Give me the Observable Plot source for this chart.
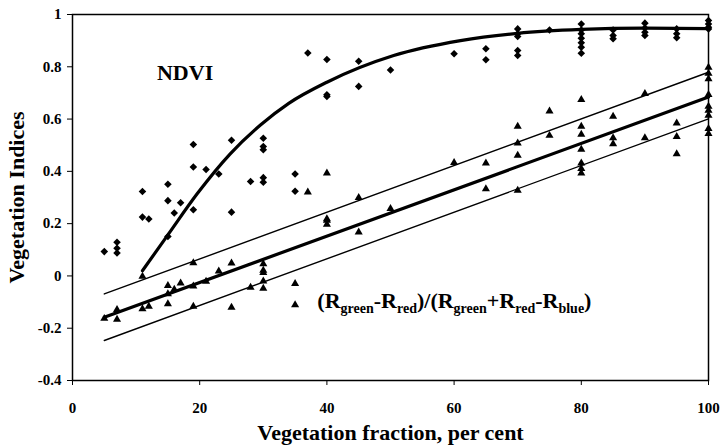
<!DOCTYPE html>
<html><head><meta charset="utf-8">
<script src="https://cdn.jsdelivr.net/npm/d3@7"></script>
<script src="https://cdn.jsdelivr.net/npm/@observablehq/plot@0.6"></script>
<style>
body{margin:0;background:#fff;}
#chart svg{display:block;}
</style></head><body><div id="chart"></div>
<script>
// NDVI observations (diamonds)
const ndviX = [5,7,7,7,11,11,12,15,15,15,16,17,19,19,19,21,23,25,25,28,30,30,30,30,30,35,35,37,40,40,40,45,45,50,60,65,65,
  70,70,70,70,70,75,80,80,80,80,80,80,80,85,85,85,90,90,90,90,95,95,95,100,100,100,100];
const ndviY = [0.093,0.129,0.106,0.088,0.323,0.225,0.218,0.351,0.288,0.151,0.241,0.28,0.503,0.417,0.253,0.407,0.39,0.519,0.244,0.361,
  0.527,0.495,0.483,0.376,0.358,0.39,0.324,0.853,0.828,0.693,0.686,0.821,0.725,0.788,0.85,0.869,0.827,
  0.945,0.926,0.916,0.862,0.843,0.941,0.964,0.941,0.926,0.909,0.892,0.875,0.852,0.941,0.92,0.907,0.967,0.948,0.932,0.92,
  0.945,0.926,0.911,0.977,0.964,0.951,0.945];
// (Rg-Rr)/(Rg+Rr-Rb) observations (triangles)
const rgX = [5,7,7,11,11,12,15,15,15,16,17,19,19,19,21,23,25,25,28,30,30,30,30,30,35,35,37,40,40,40,40,45,45,50,60,65,65,
  70,70,70,70,75,75,80,80,80,80,80,80,80,85,85,85,90,90,95,95,95,100,100,100,100,100,100,100,100,100];
const rgY = [-0.163,-0.129,-0.166,-0.002,-0.126,-0.117,-0.037,-0.069,-0.107,-0.052,-0.028,0.05,-0.039,-0.117,-0.021,0.018,0.049,-0.12,-0.044,
  0.046,0.021,0.012,-0.02,-0.048,-0.03,-0.111,0.32,0.393,0.218,0.212,0.197,0.299,0.167,0.257,0.433,0.431,0.333,
  0.572,0.508,0.461,0.327,0.63,0.537,0.674,0.572,0.541,0.484,0.431,0.41,0.393,0.61,0.528,0.505,0.697,0.528,0.584,0.533,0.467,
  0.798,0.775,0.754,0.693,0.648,0.633,0.614,0.563,0.544];
// NDVI fitted curve
const ndviCurveX = [11,15,19.6,24.8,29.6,34,40,50.5,61,70,80,90,100];
const ndviCurveY = [0.02,0.157,0.314,0.467,0.578,0.66,0.741,0.843,0.9,0.928,0.943,0.948,0.946];
// linear fit and band lines (end points)
const fitX = [5,100];
const fitMid = [-0.158,0.684];
const fitUpper = [-0.069,0.779];
const fitLower = [-0.247,0.601];
const xTicks = [0,20,40,60,80,100];
const yTicks = [-0.4,-0.2,0,0.2,0.4,0.6,0.8,1];
const labelNDVI = "NDVI";
const labelFormula = "(Rgreen-Rred)/(Rgreen+Rred-Rblue)";
const formulaParts = [["(R",0],["green",1],["-R",0],["red",1],[")/(R",0],["green",1],["+R",0],["red",1],["-R",0],["blue",1],[")",0]];
const xTitle = "Vegetation fraction, per cent";
const yTitle = "Vegetation Indices";

const ndvi = ndviX.map((x,i)=>({x, y: ndviY[i]}));
const rg = rgX.map((x,i)=>({x, y: rgY[i]}));
const curve = ndviCurveX.map((x,i)=>({x, y: ndviCurveY[i]}));
const mkLine = (ys)=>fitX.map((x,i)=>({x, y: ys[i]}));

const plot = Plot.plot({
  width: 720, height: 445,
  marginLeft: 72, marginRight: 12, marginTop: 14, marginBottom: 65,
  style: {fontFamily: "'Liberation Serif','Times New Roman',serif", fontWeight: "bold", fontSize: "15px", color: "black", background: "white"},
  x: {domain: [0,100]},
  y: {domain: [-0.4,1]},
  marks: [
    Plot.axisX({ticks: xTicks, tickSize: 5, tickPadding: 17, label: null, tickFormat: d=>String(d)}),
    Plot.axisY({ticks: yTicks, tickSize: 5, tickPadding: 6, label: null, tickFormat: d=>String(Math.round(d*10)/10)}),
    Plot.frame({stroke: "black", strokeWidth: 1.5}),
    Plot.line(mkLine(fitUpper), {x: "x", y: "y", stroke: "black", strokeWidth: 1.4}),
    Plot.line(mkLine(fitLower), {x: "x", y: "y", stroke: "black", strokeWidth: 1.4}),
    Plot.line(mkLine(fitMid), {x: "x", y: "y", stroke: "black", strokeWidth: 3.2}),
    Plot.line(curve, {x: "x", y: "y", stroke: "black", strokeWidth: 3.2, curve: "monotone-x"}),
    Plot.dot(ndvi, {x: "x", y: "y", symbol: "diamond2", r: 3.4, fill: "black", stroke: "none"}),
    Plot.dot(rg, {x: "x", y: "y", symbol: "triangle", r: 3.0, fill: "black", stroke: "none"}),
    Plot.text([labelNDVI], {x: ()=>17.7, y: ()=>0.778, text: d=>d, fontSize: 22, fill: "black"}),
    Plot.text([labelFormula], {x: ()=>38.5, y: ()=>-0.094, text: d=>d, fontSize: 22, textAnchor: "start", fill: "black"}),
    Plot.text([xTitle], {frameAnchor: "bottom", lineAnchor: "bottom", dy: 59, text: d=>d, fontSize: 22, fill: "black"}),
    Plot.text([yTitle], {frameAnchor: "left", textAnchor: "middle", lineAnchor: "middle", dx: -56, rotate: -90, text: d=>d, fontSize: 22, fill: "black"})
  ]
});
document.getElementById("chart").appendChild(plot);

// subscripts in the formula label
d3.select(plot).selectAll("text").filter(function(){ return this.textContent === labelFormula; }).each(function(){
  const t = d3.select(this);
  t.text(null);
  let low = false;
  formulaParts.forEach(([s, sub])=>{
    const sp = t.append("tspan").text(s);
    if (sub && !low) { sp.attr("dy", 5).attr("font-size", 14); low = true; }
    else if (sub) { sp.attr("font-size", 14); }
    else if (low) { sp.attr("dy", -5); low = false; }
  });
});
</script></body></html>
